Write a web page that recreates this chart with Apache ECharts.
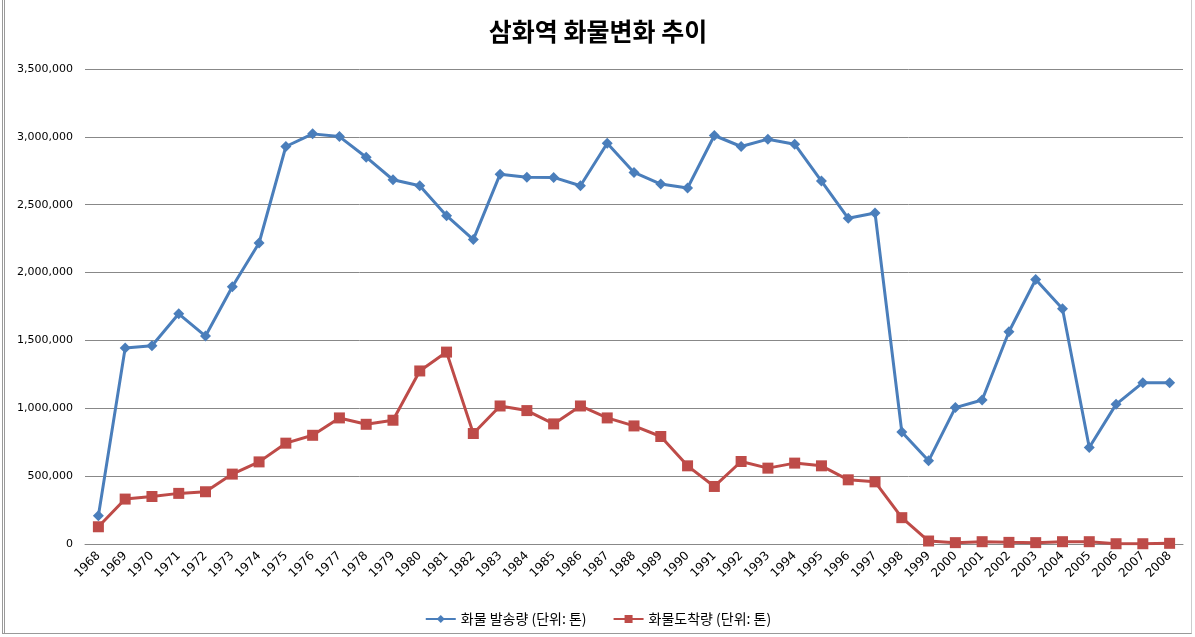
<!DOCTYPE html>
<html>
<head>
<meta charset="utf-8">
<script src="https://cdn.jsdelivr.net/npm/echarts@6/dist/echarts.min.js"></script>
<style>
html,body{margin:0;padding:0;background:#fff;}
#c{position:absolute;left:2px;top:0;width:1190px;height:634px;border-left:3px double #999;border-bottom:1px solid #999;border-right:1px solid #ccc;box-sizing:border-box;}
</style>
</head>
<body>
<div id="c"></div>
<script>
const years = ['1968','1969','1970','1971','1972','1973','1974','1975','1976','1977','1978','1979','1980','1981','1982','1983','1984','1985','1986','1987','1988','1989','1990','1991','1992','1993','1994','1995','1996','1997','1998','1999','2000','2001','2002','2003','2004','2005','2006','2007','2008'];
const shipped = [208000,1444000,1461000,1696000,1532000,1895000,2218000,2929000,3022000,3002000,2850000,2684000,2640000,2419000,2243000,2725000,2703000,2701000,2640000,2953000,2738000,2652000,2623000,3010000,2929000,2983000,2946000,2674000,2400000,2439000,826000,613000,1005000,1061000,1564000,1949000,1733000,711000,1029000,1189000,1189000];
const arrived = [127000,331000,350000,373000,385000,515000,605000,743000,801000,929000,882000,912000,1275000,1414000,814000,1017000,983000,885000,1017000,929000,870000,792000,576000,424000,608000,559000,596000,576000,473000,458000,194000,22000,10000,17000,12000,10000,17000,17000,2000,2000,5000];
const seriesNames = ['화물 발송량 (단위: 톤)','화물도착량 (단위: 톤)'];
const titleText = '삼화역 화물변화 추이';

const chart = echarts.init(document.getElementById('c'));
const font = "'Noto Sans CJK KR', 'DejaVu Sans', sans-serif";
const numFont = "'DejaVu Sans', sans-serif";
chart.setOption({
  animation:false,
  backgroundColor:'#fff',
  textStyle:{fontFamily:font},
  title:{text:titleText,left:'center',top:14,textStyle:{fontSize:25,fontWeight:'bold',color:'#000',fontFamily:font}},
  legend:{bottom:2,left:'center',itemWidth:30,itemHeight:10,itemGap:26,
    textStyle:{fontSize:14,color:'#000',fontFamily:font},data:seriesNames},
  grid:{left:80,right:8,top:69,bottom:89,containLabel:false},
  xAxis:{type:'category',data:years,boundaryGap:true,
    axisLine:{show:true,lineStyle:{color:'#888'}},axisTick:{show:false},
    axisLabel:{rotate:45,fontSize:12,color:'#000',margin:10,interval:0,fontFamily:numFont}},
  yAxis:{type:'value',min:0,max:3500000,interval:500000,
    axisLine:{show:false},axisTick:{show:false},
    splitLine:{lineStyle:{color:'#888',width:1}},
    axisLabel:{fontSize:11,color:'#000',margin:12,fontFamily:numFont,
      formatter:v=>v.toLocaleString('en-US')}},
  series:[
    {name:seriesNames[0],type:'line',data:shipped,symbol:'diamond',symbolSize:11,
      lineStyle:{color:'#4a7ebb',width:3},itemStyle:{color:'#4a7ebb'}},
    {name:seriesNames[1],type:'line',data:arrived,symbol:'rect',symbolSize:11,
      lineStyle:{color:'#be4b48',width:3},itemStyle:{color:'#be4b48'}}
  ]
});
</script>
</body>
</html>
